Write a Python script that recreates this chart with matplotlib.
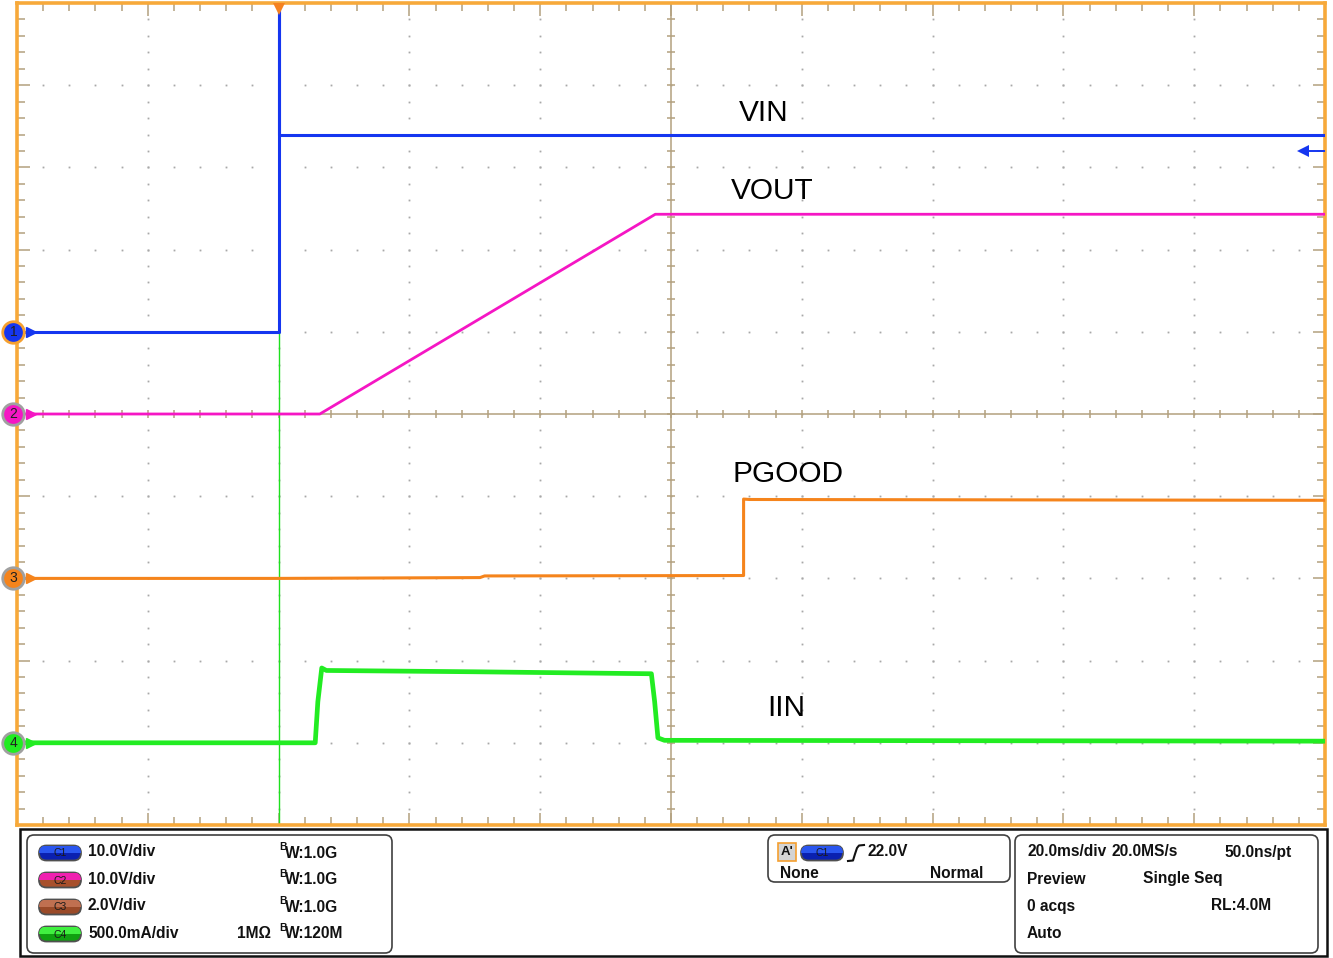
import numpy as np
import matplotlib
matplotlib.use('Agg')
import matplotlib.pyplot as plt
from matplotlib import transforms
from matplotlib.patches import FancyBboxPatch, Rectangle

# ---------------- data ----------------
t_min, t_max = -40.0, 160.0          # ms (20 ms/div, 10 div)
time_div = 20.0
v_lo, v_hi = -5.0, 5.0               # vertical divisions

names = ['VIN', 'VOUT', 'PGOOD', 'IIN']
scales = [10.0, 10.0, 2.0, 500.0]    # units per division
offsets = [1.0, 0.0, -2.0, -4.0]     # reference level (div)
colors = ['#1536f0', '#f516c4', '#f5841c', '#22ec22']
marker_edge = ['#f5a030', '#a0a0a0', '#a0a0a0', '#a0a0a0']

vin_t = [-40, 0, 0, 0, 160]
vin_v = [0.0, 0.0, 45.0, 23.9, 23.9]
vout_t = [-40, 6.3, 57.6, 160]
vout_v = [0.0, 0.0, 24.3, 24.3]
pgood_t = [-40, 0, 30.8, 31.5, 71.1, 71.1, 72.0, 160]
pgood_v = [0.0, 0.0, 0.02, 0.06, 0.07, 1.93, 1.92, 1.90]
iin_t = [-40, 0, 5.6, 6.0, 6.6, 7.3, 30, 57.0, 57.5, 58.0, 59.0, 160]
iin_v = [0, 0, 0, 250, 455, 440, 432, 420, 250, 30, 15, 10]

series_t = [vin_t, vout_t, pgood_t, iin_t]
series_v = [vin_v, vout_v, pgood_v, iin_v]
line_w = [2.2, 2.0, 2.2, 3.4]

label_pos = [(74.1, 3.66), (75.4, 2.71), (77.9, -0.73), (77.6, -3.58)]
trigger_level = 22.0

panel_left = [('C1', '10.0V/div', '', '1.0G'),
              ('C2', '10.0V/div', '', '1.0G'),
              ('C3', '2.0V/div', '', '1.0G'),
              ('C4', '500.0mA/div', '1M\u03a9', '120M')]
badge_cols = [('#2a56f0', '#0a20b0'), ('#f020b0', '#a8502c'),
              ('#c07050', '#9a4a28'), ('#40f040', '#10a010')]
timebase = [('20.0ms/div', '20.0MS/s', '50.0ns/pt'),
            ('Preview', 'Single Seq', ''),
            ('0 acqs', '', 'RL:4.0M'),
            ('Auto', '', '')]

# ---------------- figure ----------------
W, H = 1333, 958
fig = plt.figure(figsize=(W / 100, H / 100), dpi=100)
fig.patch.set_facecolor('white')

L, R, T, B = 17, 1325, 3, 825
ax = fig.add_axes([L / W, (H - B) / H, (R - L) / W, (B - T) / H])
ax.set_xlim(t_min, t_max)
ax.set_ylim(v_lo, v_hi)
ax.set_facecolor('white')

ov = fig.add_axes([0, 0, 1, 1], zorder=5)
ov.set_xlim(0, W)
ov.set_ylim(H, 0)
ov.axis('off')
ov.patch.set_alpha(0)

tan = '#b3a17f'
border = '#f7a93a'
for s in ax.spines.values():
    s.set_color(border)
    s.set_linewidth(2.6)

xmaj = np.arange(t_min, t_max + 0.1, time_div)
xmin = np.arange(t_min, t_max + 0.1, time_div / 5)
ymaj = np.arange(v_lo, v_hi + 0.01, 1.0)
ymin = np.arange(v_lo, v_hi + 0.01, 0.2)
ax.set_xticks(xmaj)
ax.set_xticks(xmin, minor=True)
ax.set_yticks(ymaj)
ax.set_yticks(ymin, minor=True)
ax.tick_params(which='both', direction='in', top=True, right=True,
               labelbottom=False, labelleft=False, color=tan, width=1.1)
ax.tick_params(which='major', length=9)
ax.tick_params(which='minor', length=6)

# dotted grid (dots at minor positions along major lines)
for yv in ymaj[1:-1]:
    if abs(yv) < 1e-9:
        continue
    ax.plot(xmin, np.full_like(xmin, yv), ls='none', marker='s', ms=1.3,
            color='#a8a8a8', mew=0, zorder=1)
cx = (t_min + t_max) / 2
for xv in xmaj[1:-1]:
    if abs(xv - cx) < 1e-9:
        continue
    ax.plot(np.full_like(ymin, xv), ymin, ls='none', marker='s', ms=1.3,
            color='#a8a8a8', mew=0, zorder=1)
# center cross with ticks
ax.axhline(0, color=tan, lw=1.1, zorder=1)
ax.axvline(cx, color=tan, lw=1.1, zorder=1)
ax.plot(xmin, np.zeros_like(xmin), ls='none', marker='|', ms=6, mew=1.1,
        color=tan, zorder=1)
ax.plot(np.full_like(ymin, cx), ymin, ls='none', marker='_', ms=6, mew=1.1,
        color=tan, zorder=1)

# trigger position line (thin green)
ax.axvline(0, color='#1ee01e', lw=1.0, zorder=2)

# traces
order = [3, 2, 1, 0]
for i in order:
    yv = offsets[i] + np.asarray(series_v[i], float) / scales[i]
    ax.plot(series_t[i], yv, color=colors[i], lw=line_w[i], zorder=3 + i,
            solid_joinstyle='round')
for i in range(4):
    ax.text(label_pos[i][0], label_pos[i][1], names[i], fontsize=21.5,
            family='Liberation Sans', ha='center', va='center', zorder=10)

# channel ground markers on the left
blend_l = transforms.blended_transform_factory(ov.transData, ax.transData)
for i in range(4):
    ax.plot([31], [offsets[i]], marker='>', ms=7.5, color=colors[i],
            transform=blend_l, clip_on=False, zorder=20)
    ax.plot([13], [offsets[i]], marker='o', ms=15.5, mfc=colors[i],
            mec=marker_edge[i], mew=2.0, transform=blend_l, clip_on=False,
            zorder=21)
    ax.text(13.5, offsets[i], str(i + 1), transform=blend_l, ha='center',
            va='center', fontsize=10, color='#202020', zorder=22,
            family='Liberation Sans')

# trigger marker at top
blend_t = transforms.blended_transform_factory(ax.transData, ov.transData)
ax.plot([0], [9], marker='v', ms=9, color='#f5821f', mew=0,
        transform=blend_t, clip_on=False, zorder=25)

# trigger level arrow on the right
trig_div = offsets[0] + trigger_level / scales[0]
ax.plot([1310, 1324], [trig_div, trig_div], color=colors[0], lw=1.4,
        transform=blend_l, clip_on=False, zorder=20)
ax.plot([1303], [trig_div], marker='<', ms=9, color=colors[0], mew=0,
        transform=blend_l, clip_on=False, zorder=20)

# ---------------- info panel ----------------
ov.add_patch(Rectangle((20, 829), 1307, 127, fill=False, ec='#101010',
                       lw=1.8))
def rbox(x0, y0, x1, y1):
    ov.add_patch(FancyBboxPatch((x0, y0), x1 - x0, y1 - y0,
                                boxstyle='round,pad=0,rounding_size=7',
                                fill=False, ec='#404040', lw=1.2))
rbox(27, 835, 392, 953)
rbox(768, 835, 1010, 882)
rbox(1015, 835, 1318, 953)

def badge(x, y, label, cols):
    p = FancyBboxPatch((x, y - 7.5), 42, 15,
                       boxstyle='round,pad=0,rounding_size=7.5',
                       fc=cols[1], ec='#505050', lw=1.3, zorder=2)
    ov.add_patch(p)
    top = Rectangle((x, y - 7.5), 42, 7.5, fc=cols[0], ec='none', zorder=2.5)
    ov.add_patch(top)
    top.set_clip_path(p)
    ov.text(x + 21, y + 0.5, label, ha='center', va='center', fontsize=7.5,
            color='#1a1a1a', family='Liberation Sans', zorder=3)

fs = 11.2
tk = dict(fontsize=fs, fontweight='bold', family='Liberation Sans',
          va='center', color='#111111')
rows = [852, 879, 906, 933]
for r, (lab, vd, imp, bw) in enumerate(panel_left):
    y = rows[r]
    badge(39, y + 1, lab, badge_cols[r])
    ov.text(88, y, vd, **tk)
    if imp:
        ov.text(237, y, imp, **tk)
    ov.text(279, y - 5, 'B', fontsize=7.5, fontweight='bold',
            family='Liberation Sans', va='center', color='#111111')
    ov.text(285, y + 1, 'W:' + bw, **tk)

# trigger box
ov.add_patch(Rectangle((778, 843), 18, 18, fc='#d4d4d4', ec='#f5a030',
                       lw=1.2))
tk2 = {k: v for k, v in tk.items() if k != 'fontsize'}
ov.text(787, 852, "A'", ha='center', fontsize=9.5, **tk2)
badge(801, 853, 'C1', badge_cols[0])
ov.plot([848, 853, 855, 857, 859, 864], [861, 860.5, 854, 848, 845.5, 845],
        color='#111111', lw=1.5)
ov.text(868, 852, '22.0V', **tk)
ov.text(780, 874, 'None', **tk)
ov.text(930, 874, 'Normal', **tk)

# timebase box
cols_x = [(1027, 'left'), (1112, 'left'), (1292, 'right')]
for r, row in enumerate(timebase):
    y = rows[r]
    for c, s in enumerate(row):
        if not s:
            continue
        x, ha = cols_x[c]
        if r == 1 and c == 1:
            x = 1143
        if s.startswith('RL'):
            x = 1271
        ov.text(x, y, s, ha=ha, **tk)

fig.savefig('out.png', dpi=100, facecolor='white')
